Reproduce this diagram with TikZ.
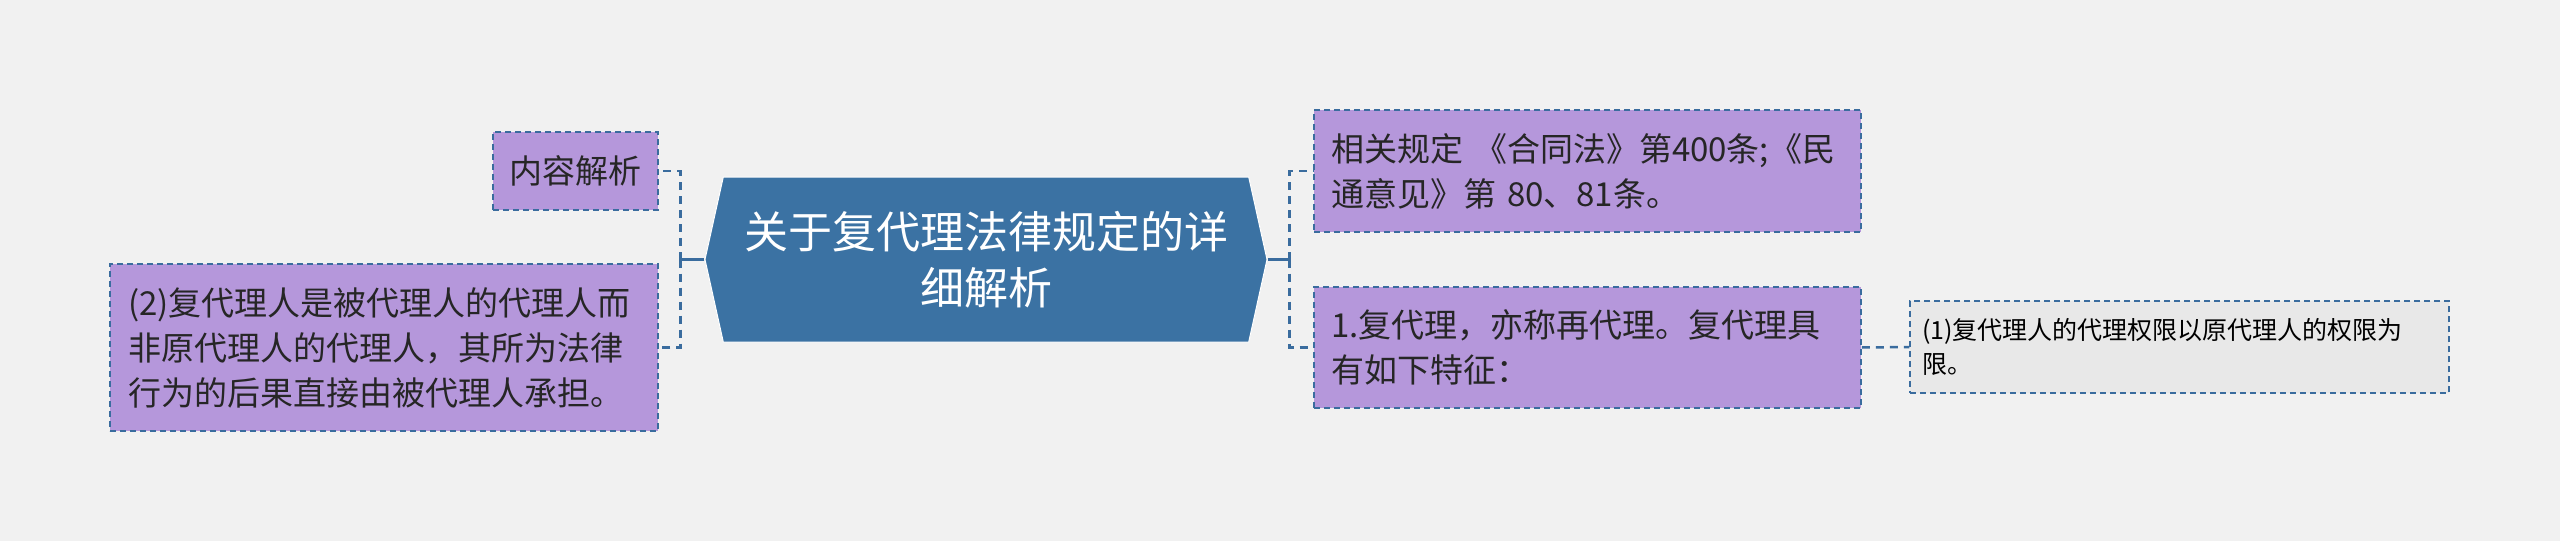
\documentclass[tikz,border=0pt]{standalone}
\usepackage{fontspec}
\setmainfont{Noto Sans CJK SC}
\usepackage{xcolor}
\usepackage{tikz}
\usetikzlibrary{positioning,shapes.symbols,calc}
\definecolor{rootblue}{RGB}{59,114,163}
\definecolor{leafpurple}{RGB}{181,151,219}
\definecolor{edgeblue}{RGB}{58,108,158}
\definecolor{notegray}{RGB}{232,232,232}
\definecolor{bggray}{RGB}{241,241,241}
\definecolor{inkdark}{RGB}{38,38,38}

\begin{document}
\begin{tikzpicture}[x=1pt, y=-1pt,
  rootbox/.style={signal, signal to=west and east, signal pointer angle=155, fill=rootblue, draw=white, line width=1pt, minimum width=562pt, minimum height=165pt, inner sep=0pt, align=center, text=white, font=\fontsize{44}{56}\selectfont},
  leafbox/.style={draw=edgeblue, fill=leafpurple, line width=1.5pt, dash pattern=on 6pt off 4pt, text=inkdark, align=left, inner ysep=0pt, font=\fontsize{33}{45}\selectfont},
  notebox/.style={draw=edgeblue, fill=notegray, line width=1.5pt, dash pattern=on 6pt off 4pt, text=black, align=left, inner ysep=0pt, font=\fontsize{25}{34}\selectfont},
  link/.style={draw=edgeblue, line width=2.5pt},
  dlink/.style={link, dash pattern=on 8pt off 6pt}
]
\useasboundingbox[fill=bggray] (0,0) rectangle (2560,541);

\node[rootbox] (root) at (986,259.5) {关于复代理法律规定的详\\细解析};

\node[leafbox, minimum width=165pt, minimum height=78pt, inner xsep=0pt, align=center] (content) at (575.5,171) {内容解析};
\node[leafbox, text width=512pt, inner xsep=18pt, minimum height=167pt] (second) at (384,347.5) {(2)复代理人是被代理人的代理人而\\非原代理人的代理人，其所为法律\\行为的后果直接由被代理人承担。};

\node[leafbox, text width=513pt, inner xsep=17pt, minimum height=122pt] (rules) at (1587.5,171) {相关规定 《合同法》第400条;《民\\通意见》第 80、81条。};
\node[leafbox, text width=513pt, inner xsep=17pt, minimum height=121pt] (first) at (1587.5,347.5) {1.复代理，亦称再代理。复代理具\\有如下特征：};
\node[notebox, text width=515pt, inner xsep=12pt, minimum height=92pt] (limit) at (2179.5,347) {(1)复代理人的代理权限以原代理人的权限为\\限。};

\coordinate (lj) at ($(root.west)+(-24,0)$);
\coordinate (rj) at ($(root.east)+(22,0)$);

\draw[link] (root.west) -- (lj);
\draw[dlink] (lj) |- (content.east);
\draw[dlink] (lj) |- (second.east);
\draw[link] (root.east) -- (rj);
\draw[dlink] (rj) |- (rules.west);
\draw[dlink] (rj) |- (first.west);
\draw[dlink] (first.east) -- (limit.west);
\end{tikzpicture}
\end{document}
